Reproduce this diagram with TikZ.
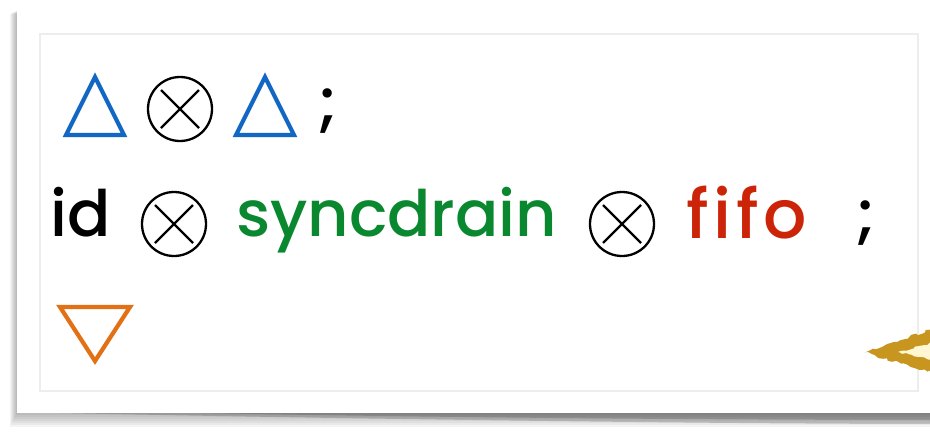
\documentclass[tikz,border=0pt]{standalone}
\usepackage{fontspec}
\setmainfont{Poppins}[UprightFont=* Medium,Ligatures=NoCommon]
\usetikzlibrary{decorations.pathmorphing}
\definecolor{tblue}{RGB}{18,102,196}
\definecolor{torange}{RGB}{226,112,20}
\definecolor{tgreen}{RGB}{10,136,48}
\definecolor{tred}{RGB}{204,36,8}
\definecolor{tgold}{RGB}{200,150,30}
\definecolor{tcream}{RGB}{255,246,210}
\begin{document}
\begin{tikzpicture}[x=1pt,y=-1pt,
  word/.style={anchor=base west,inner sep=0pt,font=\fontsize{64}{70}\selectfont},
  tri/.style={line width=4.2pt,line join=miter},
  otimes/.pic={\draw[line width=2.3pt] (0,0) circle (32);
               \draw[line width=2.3pt] (-19,-19)--(19,19) (-19,19)--(19,-19);}]
\useasboundingbox (0,0) rectangle (930,434);
% shadow
\foreach \i in {1,...,7}{
  \fill[black,opacity=0.045] (17-\i,10+0.5*\i) rectangle (945,413+2.0*\i);
}
\fill[black,opacity=0.18] (60,413) .. controls (300,418) and (700,424) .. (945,424) -- (945,413) -- cycle;
\fill[black,opacity=0.15] (200,413) .. controls (400,417) and (700,420) .. (945,420) -- (945,413) -- cycle;
% card
\fill[white] (17,10) rectangle (945,413);
\draw[black!7,line width=1.5pt] (40,34) rectangle (918,391);
% row 1
\draw[tri,tblue] (66,135) -- (95,77) -- (124,135) -- cycle;
\pic at (180,109) {otimes};
\draw[tri,tblue] (236,135) -- (265,77) -- (294,135) -- cycle;
\node[word] (semi1) at (318,124) {;};
% row 2
\node[word] (id) at (50,236) {id};
\pic at (174,224) {otimes};
\node[word,text=tgreen] (sync) at (236,236) {syncdrain};
\pic at (622,224) {otimes};
\node[word,text=tred,font=\fontsize{68}{72}\selectfont] (fifo) at (686,238) {\addfontfeature{LetterSpace=7}f{}i{}f{}o};
\node[word] (semi2) at (856,236) {;};
% row 3
\draw[tri,torange] (60,307) -- (95,361) -- (130,307) -- cycle;
% gold crayon mark
\fill[tgold,decorate,decoration={random steps,segment length=3pt,amplitude=1.6pt}]
  (864,352) -- (932,329) -- (932,373) -- cycle;
\fill[tcream,decorate,decoration={random steps,segment length=3pt,amplitude=1pt}]
  (898,352) -- (932,343) -- (932,360) -- cycle;
\end{tikzpicture}
\end{document}
